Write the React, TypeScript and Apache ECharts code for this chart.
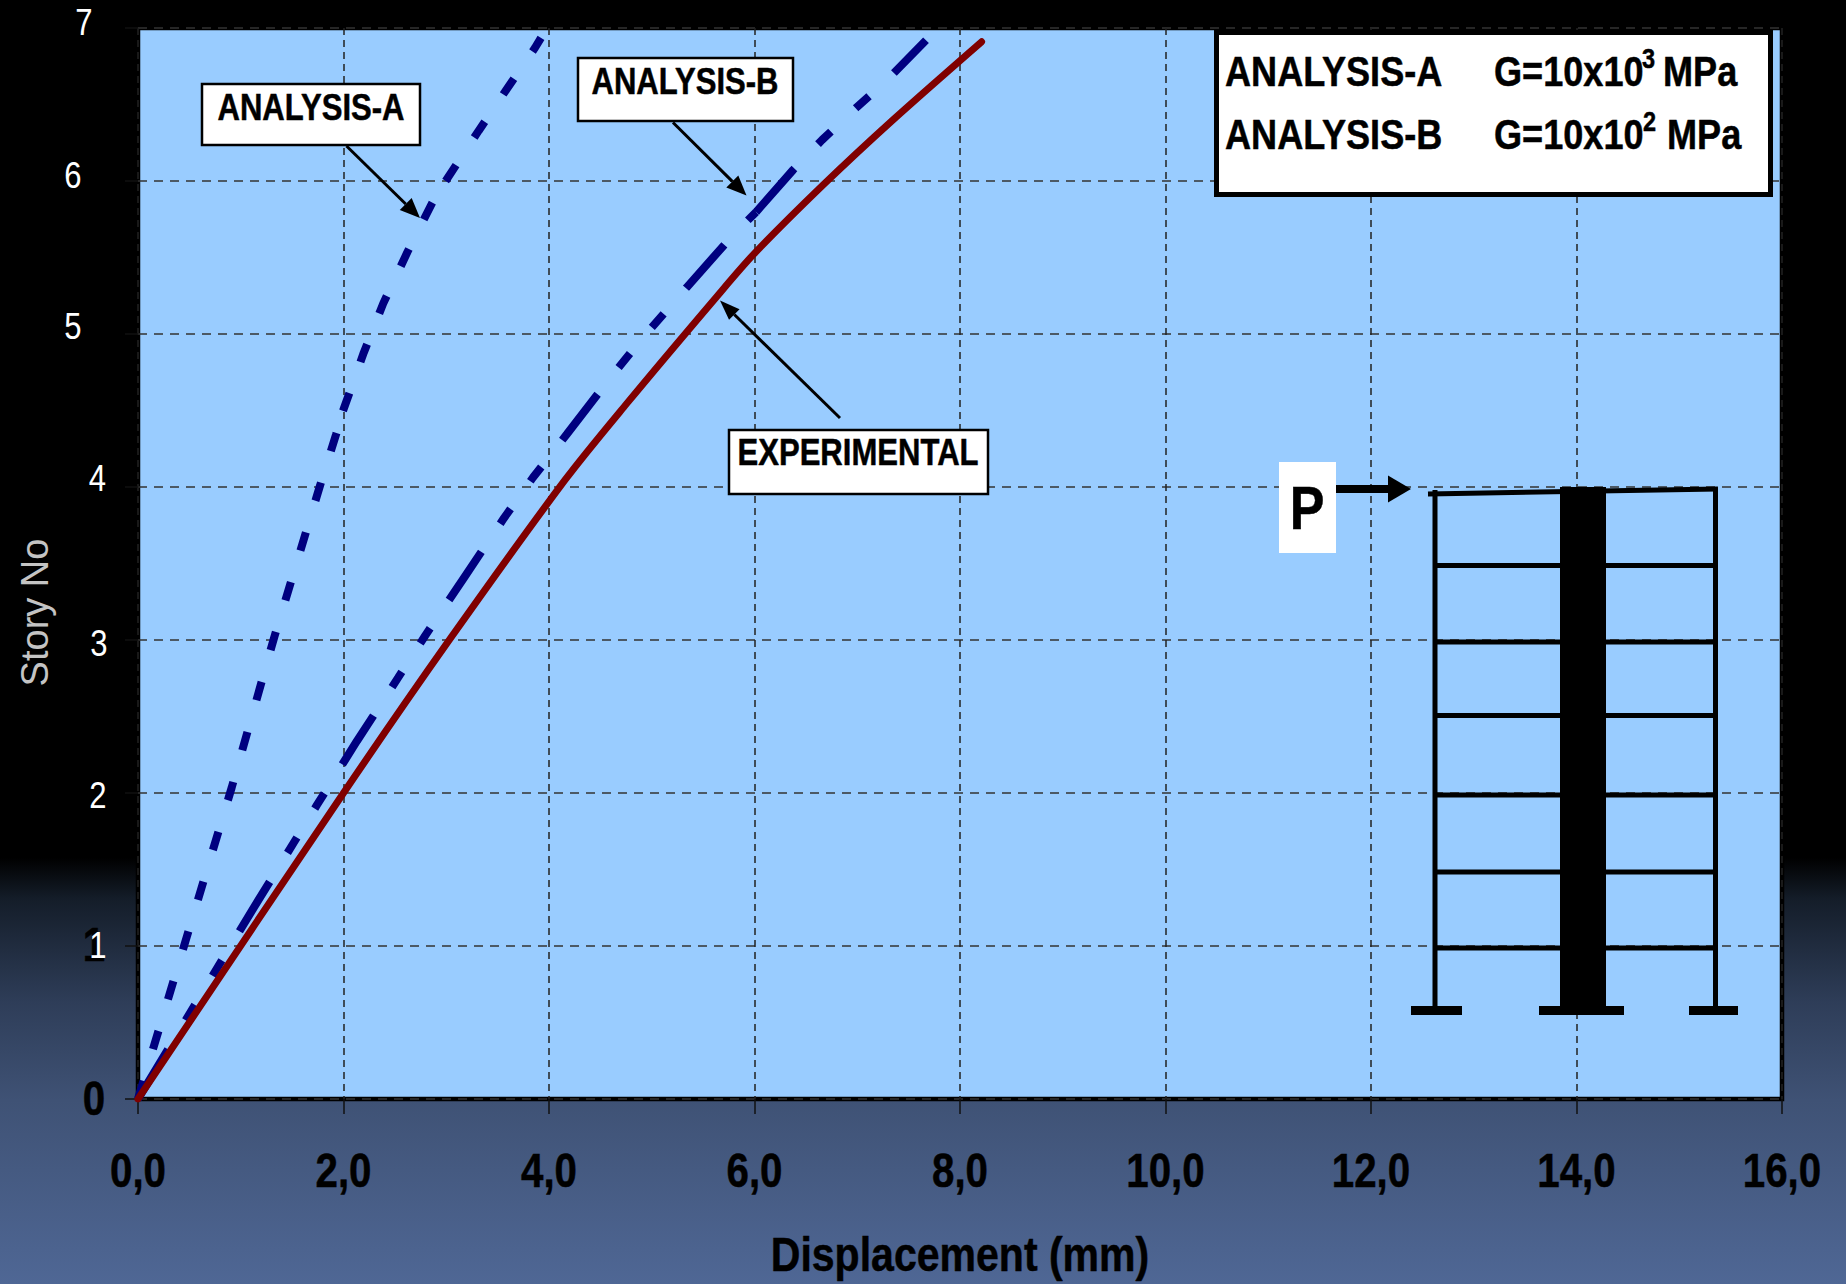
import React, { useEffect, useRef } from "react";
import * as echarts from "echarts";

const FONT = '"Liberation Sans", Arial, sans-serif';
const NARROW = 0.84;

// The dash pattern restarts along the original curves, so each curve is kept in runs.
const analysisA1: [number, number][] = [[0, 0], [0.912, 2.036], [1.327, 3.021], [1.771, 4.008], [1.927, 4.342], [1.956, 4.405]];
const analysisA2: [number, number][] = [[1.995, 4.497], [2.197, 4.878], [2.387, 5.2], [2.621, 5.534], [2.864, 5.858], [2.9, 5.902]];
const analysisA3: [number, number][] = [[2.994, 6.0], [3.316, 6.329], [3.588, 6.6], [3.864, 6.871], [3.922, 6.935]];
const analysisB1: [number, number][] = [[0, 0], [1.124, 1.248], [1.742, 1.922], [2.131, 2.34], [2.53, 2.752], [2.793, 3.026], [3.178, 3.412], [3.562, 3.797], [3.844, 4.062], [4.175, 4.346], [4.594, 4.712], [4.895, 4.961], [5.343, 5.307], [5.791, 5.647], [6.015, 5.797]];
const analysisB2: [number, number][] = [[6.015, 5.797], [6.375, 6.072], [6.657, 6.268], [6.998, 6.484], [7.29, 6.66], [7.669, 6.92]];
const experimental: [number, number][] = [[0, 0], [2.0, 2.0], [3.036, 3.006], [4.156, 4.046], [4.756, 4.545], [5.632, 5.244], [6.0, 5.527], [6.667, 5.974], [7.348, 6.4], [8.21, 6.91]];

const xTicks = [0, 2, 4, 6, 8, 10, 12, 14, 16];
const xTickLabels = ["0,0", "2,0", "4,0", "6,0", "8,0", "10,0", "12,0", "14,0", "16,0"];
const yTickLabels = ["0", "1", "2", "3", "4", "5", "6", "7"];
const xTitle = "Displacement (mm)";
const yTitle = "Story No";
const legendRows = [
  { name: "ANALYSIS-A", g: "G=10x10", exp: "3", unit: "MPa" },
  { name: "ANALYSIS-B", g: "G=10x10", exp: "2", unit: "MPa" },
];

// horizontal centre and vertical shift of each white y label, as placed in the original slide
const yLabelPlace: Record<string, [number, number]> = {
  "1": [98, -1], "2": [98, 2], "3": [99, 3.5], "4": [97.5, -9], "5": [73, -8], "6": [73, -6], "7": [84, -6],
};

function arrow(x1: number, y1: number, x2: number, y2: number, len: number, half: number, w: number) {
  const d = Math.hypot(x2 - x1, y2 - y1);
  const ux = (x2 - x1) / d, uy = (y2 - y1) / d;
  const bx = x2 - ux * len, by = y2 - uy * len;
  return [
    { type: "line", z: 20, shape: { x1, y1, x2: bx, y2: by }, style: { stroke: "#000", lineWidth: w } },
    { type: "polygon", z: 20, shape: { points: [[x2, y2], [bx - uy * half, by + ux * half], [bx + uy * half, by - ux * half]] }, style: { fill: "#000" } },
  ];
}

function label(text: string, x: number, y: number, size: number, weight = "bold", align = "center", fill = "#000", z = 30, scale = NARROW) {
  return {
    type: "text", z, x, y, scaleX: scale,
    style: {
      text, fill, fontFamily: FONT, fontSize: size, fontWeight: weight, textAlign: align, textVerticalAlign: "middle",
      ...(weight === "bold" ? { stroke: fill, lineWidth: 0.5 } : {}),
    },
  };
}

function box(x: number, y: number, w: number, h: number, lineWidth = 2.5) {
  return { type: "rect", z: 25, shape: { x, y, width: w, height: h }, style: { fill: "#fff", stroke: "#000", lineWidth } };
}

function solid(x: number, y: number, w: number, h: number) {
  return { type: "rect", z: 15, shape: { x, y, width: w, height: h }, style: { fill: "#000" } };
}

function buildGraphics(chart: any) {
  const out: any[] = [];
  // tick labels, placed through the axis scales
  xTicks.forEach((v, i) => {
    const [px, py] = chart.convertToPixel({ xAxisIndex: 0, yAxisIndex: 0 }, [v, 0]);
    out.push(label(xTickLabels[i], px, py + 71, 48));
  });
  yTickLabels.forEach((t) => {
    const v = Number(t);
    const [, py] = chart.convertToPixel({ xAxisIndex: 0, yAxisIndex: 0 }, [0, v]);
    if (v === 0) out.push(label(t, 94, py - 1, 48));
    if (v === 1) out.push(label(t, 94, py - 2, 48));
    if (v > 0) {
      const [cx, dy] = yLabelPlace[t];
      out.push(label(t, cx, py + dy, 37, "normal", "center", "#fff", 31));
    }
  });
  const [titleX] = chart.convertToPixel({ xAxisIndex: 0, yAxisIndex: 0 }, [8, 0]);
  out.push(label(xTitle, titleX, 1254, 48, "bold", "center", "#000", 30, 0.855));
  // callouts
  out.push(box(202, 84, 218, 61), label("ANALYSIS-A", 311, 107, 37));
  out.push(box(578, 58, 215, 63), label("ANALYSIS-B", 685, 81, 37));
  out.push(box(729, 430, 259, 64), label("EXPERIMENTAL", 858, 452, 37));
  out.push(...arrow(346.5, 146, 420, 218, 20, 8.5, 3));
  out.push(...arrow(673, 122.5, 746.5, 195.5, 20, 8.5, 3));
  out.push(...arrow(840, 418, 720, 300.5, 20, 7.5, 3));
  // legend box
  out.push(box(1216.5, 32.5, 554, 162, 5));
  legendRows.forEach((r, i) => {
    const mid = i === 0 ? 71 : 134;
    out.push(label(r.name, 1225, mid, 43, "bold", "left"));
    out.push(label(r.g, 1494, mid, 43, "bold", "left"));
    out.push(label(r.exp, i === 0 ? 1642 : 1643, i === 0 ? 58 : 121, 28, "bold", "left"));
    out.push(label(r.unit, i === 0 ? 1663 : 1667, mid, 43, "bold", "left"));
  });
  // frame sketch
  out.push(solid(1432.5, 490, 5, 520), solid(1713, 489, 5, 521), solid(1560, 487, 46, 523));
  [565.5, 642, 715.5, 795, 872, 948].forEach((y) => {
    out.push(solid(1435, y - 2.5, 280, 5));
  });
  out.push({ type: "line", z: 15, shape: { x1: 1428, y1: 494, x2: 1718, y2: 489 }, style: { stroke: "#000", lineWidth: 5 } });
  out.push(solid(1411, 1006, 51, 9), solid(1539, 1006, 85, 9), solid(1689, 1006, 49, 9));
  // load
  out.push({ type: "rect", z: 25, shape: { x: 1279, y: 462, width: 57, height: 91 }, style: { fill: "#fff" } });
  out.push(label("P", 1307, 507, 62));
  out.push(...arrow(1336, 489, 1411, 489, 23, 13.5, 8));
  return out;
}

const aLine = { color: "#000080", width: 8, type: [19, 33], cap: "butt" };
const bLine = { color: "#000080", width: 8, type: [58, 34, 18, 34, 18, 34], cap: "butt" };

export default function App() {
  const ref = useRef<HTMLDivElement>(null);
  useEffect(() => {
    if (!ref.current) return;
    const chart = echarts.init(ref.current, undefined, { renderer: "svg" });
    chart.setOption({
      animation: false,
      backgroundColor: {
        type: "linear", x: 0, y: 0, x2: 0, y2: 1,
        colorStops: [
          { offset: 0, color: "#000000" },
          { offset: 0.668, color: "#000000" },
          { offset: 0.7, color: "#141d29" },
          { offset: 0.78, color: "#2e3d58" },
          { offset: 0.857, color: "#3f5275" },
          { offset: 1, color: "#4f6795" },
        ],
      },
      grid: {
        show: true, left: 138, right: 64, top: 28, bottom: 185, outerBoundsMode: "none", containLabel: false,
        backgroundColor: "#99CCFF", borderColor: "#000", borderWidth: 4.5,
      },
      xAxis: {
        type: "value", min: 0, max: 16, interval: 2,
        axisLine: { show: false },
        axisTick: { show: true, length: 15, lineStyle: { color: "#111", width: 1.5 } },
        splitLine: { show: true, lineStyle: { color: "#222", width: 1.5, type: [7, 5] } },
        axisLabel: { show: false },
      },
      yAxis: {
        type: "value", min: 0, max: 7, interval: 1, position: "left",
        name: yTitle, nameLocation: "middle", nameGap: 84,
        nameTextStyle: { fontFamily: FONT, fontSize: 38, color: "#c4c4c4", padding: [0, 98, 0, 0] },
        axisLine: { show: false },
        axisTick: { show: true, length: 13, lineStyle: { color: "#111", width: 1.5 } },
        splitLine: { show: true, lineStyle: { color: "#333", width: 1.5, type: [9, 7] } },
        axisLabel: { show: false },
      },
      series: [
        { name: "ANALYSIS-A", type: "line", data: analysisA1, showSymbol: false, z: 3, lineStyle: aLine },
        { name: "ANALYSIS-A", type: "line", data: analysisA2, showSymbol: false, z: 3, lineStyle: aLine },
        { name: "ANALYSIS-A", type: "line", data: analysisA3, showSymbol: false, z: 3, lineStyle: aLine },
        { name: "ANALYSIS-B", type: "line", data: analysisB1, showSymbol: false, z: 4, lineStyle: bLine },
        { name: "ANALYSIS-B", type: "line", data: analysisB2, showSymbol: false, z: 4, lineStyle: bLine },
        {
          name: "EXPERIMENTAL", type: "line", data: experimental, showSymbol: false, z: 5, smooth: 0.3,
          lineStyle: { color: "#800000", width: 7, cap: "round" },
        },
      ],
    });
    chart.setOption({ graphic: { elements: buildGraphics(chart) } });
    return () => chart.dispose();
  }, []);
  return <div ref={ref} style={{ position: "fixed", left: 0, top: 0, width: 1846, height: 1284 }} />;
}
